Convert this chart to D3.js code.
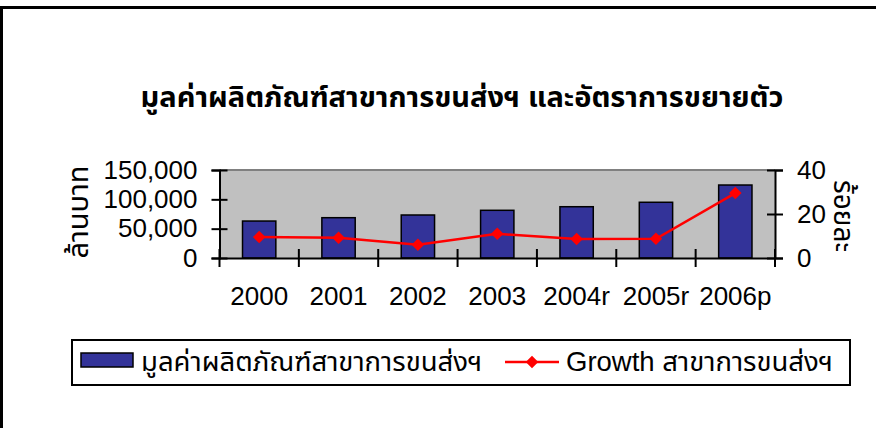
<!DOCTYPE html>
<html>
<head>
<meta charset="utf-8">
<script src="https://cdn.jsdelivr.net/npm/d3@7"></script>
<style>
  body { margin: 0; background: #fff; }
  text { font-family: "Liberation Sans", Arial, "Noto Sans Thai", "Noto Sans", sans-serif; }
</style>
</head>
<body>
<svg id="chart" width="876" height="428"></svg>
<script>
// data
const years = ["2000", "2001", "2002", "2003", "2004r", "2005r", "2006p"];
const outputValue = [63000, 68700, 73300, 81300, 87400, 95000, 124400]; // ล้านบาท
const growthRate = [9.5, 9.2, 6.0, 11.0, 8.6, 8.7, 29.5]; // ร้อยละ
const leftTicks = [0, 50000, 100000, 150000];
const rightTicks = [0, 20, 40];

const titleText = "มูลค่าผลิตภัณฑ์สาขาการขนส่งฯ และอัตราการขยายตัว";
const barName = "มูลค่าผลิตภัณฑ์สาขาการขนส่งฯ";
const lineName = "Growth สาขาการขนส่งฯ";

const svg = d3.select("#chart");

// outer chart frame (runs past the window)
svg.append("rect")
  .attr("x", 1.5).attr("y", 7.5)
  .attr("width", 900).attr("height", 500)
  .attr("fill", "none")
  .attr("stroke", "#000")
  .attr("stroke-width", 3);

const plot = { left: 219.5, right: 775, top: 170, bottom: 258 };

const x = d3.scaleBand()
  .domain(years)
  .range([plot.left, plot.right])
  .paddingInner(0.58)
  .paddingOuter(0.29);
const step = x.step();

const yL = d3.scaleLinear().domain([0, 150000]).range([plot.bottom, plot.top]);
const yR = d3.scaleLinear().domain([0, 40]).range([plot.bottom, plot.top]);

// title
svg.append("text")
  .attr("x", 462).attr("y", 107)
  .attr("text-anchor", "middle")
  .style("font-size", "29px")
  .style("font-weight", "bold")
  .text(titleText);

// plot background
svg.append("rect")
  .attr("x", plot.left).attr("y", plot.top)
  .attr("width", plot.right - plot.left)
  .attr("height", plot.bottom - plot.top)
  .attr("fill", "#c0c0c0");
svg.append("line")
  .attr("x1", plot.left).attr("x2", plot.right)
  .attr("y1", plot.top).attr("y2", plot.top)
  .attr("stroke", "#808080").attr("stroke-width", 2);

// bars
svg.selectAll(".bar")
  .data(years)
  .join("rect")
  .attr("class", "bar")
  .attr("x", d => x(d))
  .attr("y", (d, i) => yL(outputValue[i]))
  .attr("width", x.bandwidth())
  .attr("height", (d, i) => plot.bottom - yL(outputValue[i]))
  .attr("fill", "#333399")
  .attr("stroke", "#000")
  .attr("stroke-width", 1.5);

// axes
const tickStyle = g => {
  g.select(".domain").attr("stroke", "#000").attr("stroke-width", 2);
  g.selectAll(".tick line").attr("stroke", "#000").attr("stroke-width", 2);
  g.selectAll(".tick text").attr("fill", "#000").style("font-size", "26px");
};

const leftAxis = svg.append("g")
  .attr("transform", `translate(${plot.left},0)`)
  .call(d3.axisLeft(yL).tickValues(leftTicks).tickFormat(d3.format(",")).tickSizeOuter(0).tickSize(8).tickPadding(14))
  .call(tickStyle);
leftAxis.selectAll(".tick line").attr("x2", 8).attr("x1", -8);
leftAxis.attr("font-family", null);

const rightAxis = svg.append("g")
  .attr("transform", `translate(${plot.right},0)`)
  .call(d3.axisRight(yR).tickValues(rightTicks).tickSizeOuter(0).tickSize(8).tickPadding(14))
  .call(tickStyle);
rightAxis.selectAll(".tick line").attr("x1", -8).attr("x2", 8);
rightAxis.attr("font-family", null);

// category axis: ticks between categories
const bottomAxis = svg.append("g")
  .attr("transform", `translate(0,${plot.bottom})`)
  .call(d3.axisBottom(x).tickSize(0).tickPadding(29))
  .call(tickStyle);
bottomAxis.attr("font-family", null);
bottomAxis.selectAll(".cat-tick")
  .data(d3.range(years.length + 1))
  .join("line")
  .attr("class", "cat-tick")
  .attr("x1", i => plot.left + i * step)
  .attr("x2", i => plot.left + i * step)
  .attr("y1", -9).attr("y2", 9)
  .attr("stroke", "#000").attr("stroke-width", 2);

// growth line
const cx = d => x(d) + x.bandwidth() / 2;
const line = d3.line()
  .x((d, i) => cx(years[i]))
  .y(d => yR(d));
svg.append("path")
  .datum(growthRate)
  .attr("d", line)
  .attr("fill", "none")
  .attr("stroke", "#ff0000")
  .attr("stroke-width", 2.5);

const diamond = d3.symbol().type(d3.symbolDiamond2).size(100);
svg.selectAll(".pt")
  .data(growthRate)
  .join("path")
  .attr("class", "pt")
  .attr("transform", (d, i) => `translate(${cx(years[i])},${yR(d)})`)
  .attr("d", diamond)
  .attr("fill", "#ff0000");

// axis titles
svg.append("text")
  .attr("transform", "translate(88,212) rotate(-90)")
  .attr("text-anchor", "middle")
  .style("font-size", "29px")
  .text("ล้านบาท");
svg.append("text")
  .attr("transform", "translate(834,216) rotate(90)")
  .attr("text-anchor", "middle")
  .style("font-size", "28px")
  .text("ร้อยละ");

// legend
const legend = svg.append("g");
legend.append("rect")
  .attr("x", 72).attr("y", 340)
  .attr("width", 778).attr("height", 45)
  .attr("fill", "#fff")
  .attr("stroke", "#000").attr("stroke-width", 2);
legend.append("rect")
  .attr("x", 81).attr("y", 353)
  .attr("width", 52).attr("height", 14)
  .attr("fill", "#333399")
  .attr("stroke", "#000").attr("stroke-width", 1.5);
legend.append("text")
  .attr("x", 141).attr("y", 371)
  .style("font-size", "27.5px")
  .text(barName);
legend.append("line")
  .attr("x1", 505).attr("x2", 559)
  .attr("y1", 362).attr("y2", 362)
  .attr("stroke", "#ff0000").attr("stroke-width", 2.5);
legend.append("path")
  .attr("transform", "translate(532,362)")
  .attr("d", diamond)
  .attr("fill", "#ff0000");
legend.append("text")
  .attr("x", 566).attr("y", 371)
  .style("font-size", "27.5px")
  .text(lineName);
</script>
</body>
</html>
